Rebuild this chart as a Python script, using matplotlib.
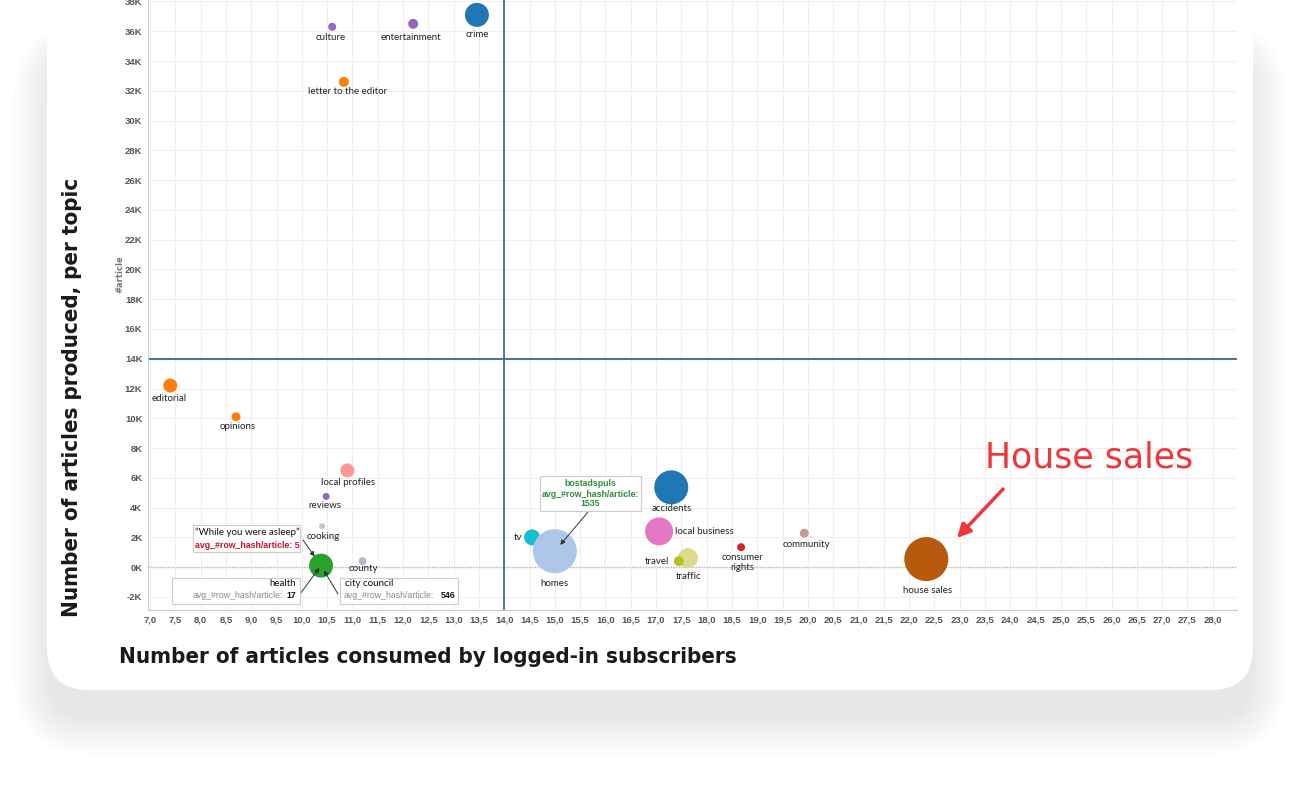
import matplotlib
matplotlib.use("Agg")
import matplotlib.pyplot as plt
from matplotlib.patches import FancyBboxPatch, Rectangle, FancyArrowPatch
from matplotlib.ticker import FuncFormatter, MultipleLocator

# data: articles consumed (x), articles produced (y), bubble size
topics = ["culture", "entertainment", "crime", "letter to the editor", "editorial",
          "opinions", "local profiles", "reviews", "cooking", "health", "county",
          "tv", "homes", "accidents", "local business", "traffic", "travel",
          "consumer\nrights", "community", "house sales"]
consumed = [10.6, 12.2, 13.46, 10.83, 7.4, 8.7, 10.9, 10.48, 10.4, 10.38, 11.2,
            14.55, 15.0, 17.3, 17.06, 17.63, 17.45, 18.68, 19.93, 22.34]
produced = [36300, 36500, 37100, 32600, 12200, 10100, 6500, 4750, 2750, 100, 400,
            2000, 1070, 5360, 2400, 600, 400, 1340, 2280, 540]
bubble = [4, 5, 12, 5, 7, 4.5, 7, 3.5, 3, 12, 4, 8, 22, 17, 14, 10, 5, 4, 4.5, 22]

colors = ["#9467bd", "#9467bd", "#1f77b4", "#ff7f0e", "#ff7f0e", "#ff7f0e", "#ff9896",
          "#9467bd", "#c7c7c7", "#2ca02c", "#c5b0d5", "#17becf", "#aec7e8", "#1f77b4",
          "#e377c2", "#dbdb8d", "#bcbd22", "#d62728", "#c49c94", "#b85a0d"]
# label offsets in pixels (dx, dy)
offsets = {"culture": (-2, -11), "entertainment": (-2, -14), "crime": (0, -20),
           "letter to the editor": (4, -10), "editorial": (-1, -13), "opinions": (2, -10),
           "local profiles": (1, -12), "reviews": (-1, -9), "cooking": (1, -10),
           "county": (1, -7), "tv": (-14, 0), "homes": (0, -32), "accidents": (1, -21),
           "local business": (45, 0), "travel": (-22, 0), "traffic": (1, -18),
           "consumer\nrights": (1, -15), "community": (2, -11), "house sales": (1, -31)}

W, H = 1300, 800
fig = plt.figure(figsize=(13, 8), dpi=100)
fig.patch.set_facecolor("white")

def fp(x, y):
    # image pixel (top-left origin) -> figure fraction
    return x / W, 1 - y / H

# card with soft shadow
n = 24
for i in range(n):
    g = 38 * (1 - i / n)
    fig.patches.append(FancyBboxPatch(
        ((50 - g) / 100, (110 - 28 - g) / 100),
        (1200 + 2 * g) / 100, (660 + 2 * g) / 100,
        boxstyle="round,pad=0,rounding_size=%f" % ((42 + g) / 100),
        transform=fig.dpi_scale_trans, facecolor="black", edgecolor="none",
        alpha=0.0042, zorder=0))
fig.patches.append(FancyBboxPatch((0.47, 1.10), 12.06, 6.95,
                                  boxstyle="round,pad=0,rounding_size=0.42",
                                  transform=fig.dpi_scale_trans, facecolor="white",
                                  edgecolor="none", zorder=1))

ax = fig.add_axes([148 / W, 1 - 610 / H, (1237 - 148) / W, 610 / H])
ax.set_zorder(2)
ax.set_facecolor("white")
ax.set_xlim(6.96, 28.48)
ax.set_ylim(-2880, 38100)

ax.xaxis.set_major_locator(MultipleLocator(0.5))
ax.yaxis.set_major_locator(MultipleLocator(2000))
ax.xaxis.set_major_formatter(FuncFormatter(lambda v, p: f"{v:.1f}".replace(".", ",")))
ax.yaxis.set_major_formatter(FuncFormatter(lambda v, p: f"{int(round(v / 1000))}K"))
ax.grid(True, color="#efefef", lw=0.8)
ax.set_axisbelow(True)
ax.tick_params(length=0, labelsize=6.8, labelcolor="#555555", pad=4)
for lab in ax.get_xticklabels() + ax.get_yticklabels():
    lab.set_fontfamily("Liberation Sans")
    lab.set_fontweight("bold")
for s in ["top", "right"]:
    ax.spines[s].set_visible(False)
ax.spines["left"].set_color("#d0d0d0")
ax.spines["bottom"].set_color("#c8c8c8")

ax.axhline(0, color="#bbbbbb", lw=1, ls=(0, (1, 1)), zorder=1)
ax.axvline(14.0, color="#2d4f7a", lw=1.1, zorder=1)
ax.axhline(14000, color="#4f7397", lw=1.5, zorder=1)

sizes = [(1.44 * r) ** 2 for r in bubble]
ax.scatter(consumed, produced, s=sizes, c=colors, zorder=3, linewidths=0)

for t, x, y in zip(topics, consumed, produced):
    if t in offsets:
        ax.annotate(t, (x, y), xytext=offsets[t], textcoords="offset pixels",
                    ha="center", va="center", fontsize=7, family="Lato",
                    color="#222222", zorder=4, linespacing=1.1)

ax.text(-0.026, 0.55, "#article", transform=ax.transAxes, rotation=90, fontsize=6,
        color="#777777", fontweight="bold", ha="center", va="center")

# tooltip boxes
def box(x0, y0, x1, y1):
    fig.patches.append(Rectangle(fp(x0, y1), (x1 - x0) / W, (y1 - y0) / H,
                                 transform=fig.transFigure, facecolor="white",
                                 edgecolor="#cccccc", lw=0.8, zorder=5))

def ftext(x, y, s, **kw):
    fig.text(*fp(x, y), s, va="center", zorder=6, **kw)

def arrow(x0, y0, i, shrink=2):
    ax.annotate("", xy=(consumed[i], produced[i]), xycoords="data",
                xytext=fp(x0, y0), textcoords="figure fraction",
                arrowprops=dict(arrowstyle="-|>", color="#333333", lw=0.7,
                                mutation_scale=7, shrinkA=0, shrinkB=shrink), zorder=6)

hi = topics.index("health")
box(193, 525, 300, 552)
ftext(247, 532, "\u201cWhile you were asleep\u201d", ha="center", fontsize=7, family="Lato", color="#111111")
ftext(247, 545, "avg_#row_hash/article: 5", ha="center", fontsize=6.3, color="#c4122f",
      fontweight="bold", family="Liberation Sans")
arrow(303, 540, hi, shrink=8)

box(172, 578, 300, 604)
ftext(296, 584, "health", ha="right", fontsize=7, family="Lato", color="#111111")
ftext(283, 596, "avg_#row_hash/article:", ha="right", fontsize=6.3, color="#888888",
      family="Liberation Sans")
ftext(286, 596, "17", ha="left", fontsize=6.3, color="#111111", fontweight="bold",
      family="Liberation Sans")
arrow(300, 594, hi, shrink=2)

box(340, 578, 458, 604)
ftext(345, 584, "city council", ha="left", fontsize=7, family="Lato", color="#111111")
ftext(344, 596, "avg_#row_hash/article:", ha="left", fontsize=6.3, color="#888888",
      family="Liberation Sans")
ftext(441, 596, "546", ha="left", fontsize=6.3, color="#111111", fontweight="bold",
      family="Liberation Sans")
arrow(338, 594, hi, shrink=4)

box(540, 476, 641, 511)
for yy, s in [(484, "bostadspuls"), (494, "avg_#row_hash/article:"), (503, "1535")]:
    ftext(590, yy, s, ha="center", fontsize=6.3, color="#2e8b3a", fontweight="bold",
          family="Liberation Sans")
arrow(588, 512, topics.index("homes"), shrink=6)

# handwritten callout
fig.text(*fp(1089, 457), "House sales", ha="center", va="center", fontsize=25,
         color="#f2353b", family="DejaVu Sans", zorder=6)
fig.patches.append(FancyArrowPatch(fp(1005, 487), fp(955, 540), transform=fig.transFigure,
                                   arrowstyle="-|>", mutation_scale=20, color="#f2353b",
                                   lw=2.5, zorder=6))

# big axis titles
fig.text(*fp(428, 657), "Number of articles consumed by logged-in subscribers", ha="center",
         va="center", fontsize=16, fontweight="bold", fontstretch="condensed",
         family="DejaVu Sans", color="#1a1a1a", zorder=6)
fig.text(*fp(72, 397), "Number of articles produced, per topic", ha="center", va="center",
         rotation=90, fontsize=16, fontweight="bold", fontstretch="condensed",
         family="DejaVu Sans", color="#1a1a1a", zorder=6)

fig.savefig("out.png", dpi=100)
